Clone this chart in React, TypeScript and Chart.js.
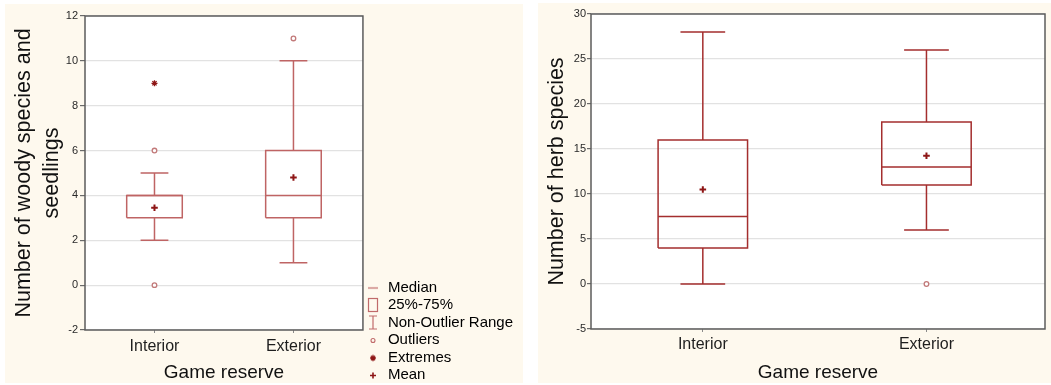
import React, { useEffect, useRef } from 'react';
import { Chart, registerables } from 'chart.js';
Chart.register(...registerables);

const FONT = '"Liberation Sans", Arial, sans-serif';
Chart.defaults.font.family = FONT;

// ---------- data ----------
const categories = ['Interior', 'Exterior'];

// Woody species and seedlings
const woodyMin = [2, 1];
const woodyQ1 = [3, 3];
const woodyMedian = [4, 4];
const woodyQ3 = [4, 6];
const woodyMax = [5, 10];
const woodyMean = [3.45, 4.8];
const woodyOutliers = [[6, 0], [11]];
const woodyExtremes = [[9], []];
const woodyTicks = { min: -2, max: 12, step: 2 };

// Herb species
const herbMin = [0, 6];
const herbQ1 = [4, 11];
const herbMedian = [7.5, 13];
const herbQ3 = [16, 18];
const herbMax = [28, 26];
const herbMean = [10.5, 14.25];
const herbOutliers = [[], [0]];
const herbExtremes = [[], []];
const herbTicks = { min: -5, max: 30, step: 5 };

const legendLabels = ['Median', '25%-75%', 'Non-Outlier Range', 'Outliers', 'Extremes', 'Mean'];

// ---------- helpers ----------
type Pt = { x: number; y: number | null };

function boxOutline(q1: number[], q3: number[], hw: number): Pt[] {
  const pts: Pt[] = [];
  q1.forEach((lo, i) => {
    const hi = q3[i];
    pts.push({ x: i - hw, y: lo }, { x: i + hw, y: lo }, { x: i + hw, y: hi }, { x: i - hw, y: hi }, { x: i - hw, y: lo }, { x: i, y: null });
  });
  return pts;
}
function medianLines(med: number[], hw: number): Pt[] {
  const pts: Pt[] = [];
  med.forEach((m, i) => pts.push({ x: i - hw, y: m }, { x: i + hw, y: m }, { x: i, y: null }));
  return pts;
}
function whiskerLines(mn: number[], q1: number[], q3: number[], mx: number[], hc: number): Pt[] {
  const pts: Pt[] = [];
  mn.forEach((lo, i) => {
    pts.push({ x: i, y: q3[i] }, { x: i, y: mx[i] }, { x: i, y: null });
    pts.push({ x: i - hc, y: mx[i] }, { x: i + hc, y: mx[i] }, { x: i, y: null });
    pts.push({ x: i, y: q1[i] }, { x: i, y: lo }, { x: i, y: null });
    pts.push({ x: i - hc, y: lo }, { x: i + hc, y: lo }, { x: i, y: null });
  });
  return pts;
}
function groupPoints(lists: number[][]): Pt[] {
  return lists.flatMap((vals, i) => vals.map((v) => ({ x: i, y: v })));
}

function sym(draw: (ctx: CanvasRenderingContext2D) => void): HTMLCanvasElement {
  const c = document.createElement('canvas');
  c.width = 14;
  c.height = 16;
  const ctx = c.getContext('2d')!;
  draw(ctx);
  return c;
}

const framePlugin = {
  id: 'frame',
  beforeDraw(chart: any) {
    const { ctx, chartArea: a } = chart;
    if (!a) return;
    ctx.save();
    ctx.fillStyle = '#ffffff';
    ctx.fillRect(a.left, a.top, a.right - a.left, a.bottom - a.top);
    ctx.restore();
  },
  afterDatasetsDraw(chart: any) {
    const { ctx, chartArea: a } = chart;
    if (!a) return;
    ctx.save();
    ctx.strokeStyle = '#5c5c5c';
    ctx.lineWidth = 1.5;
    ctx.strokeRect(a.left, a.top, a.right - a.left, a.bottom - a.top);
    ctx.restore();
  },
};

interface PanelSpec {
  mn: number[]; q1: number[]; med: number[]; q3: number[]; mx: number[]; mean: number[];
  outliers: number[][]; extremes: number[][];
  ticks: { min: number; max: number; step: number };
  xMin: number; xMax: number;
  lineColor: string;
  yTitle: string | string[];
  yWidth: number; xHeight: number;
  xTickPad: number; xTitlePad: number;
  yTickLen: number; yTickPad: number;
  padding: { top: number; right: number; bottom: number; left: number };
  legend: boolean;
}

function makeConfig(p: PanelSpec): any {
  const meanColor = '#8e1616';
  const ds: any[] = [
    { label: 'box', data: boxOutline(p.q1, p.q3, 0.2), borderColor: p.lineColor, borderWidth: 1.5, pointRadius: 0, fill: false, tension: 0 },
    { label: 'median', data: medianLines(p.med, 0.2), borderColor: p.lineColor, borderWidth: 1.5, pointRadius: 0, fill: false, tension: 0 },
    { label: 'whiskers', data: whiskerLines(p.mn, p.q1, p.q3, p.mx, 0.1), borderColor: p.lineColor, borderWidth: 1.5, pointRadius: 0, fill: false, tension: 0 },
    { label: 'outliers', data: groupPoints(p.outliers), showLine: false, pointStyle: 'circle', pointRadius: 2.3, borderColor: '#c27a7a', backgroundColor: '#ffffff', pointBorderWidth: 1.3 },
    { label: 'extremes', data: groupPoints(p.extremes), showLine: false, pointStyle: 'star', pointRadius: 3, borderColor: meanColor, backgroundColor: meanColor, pointBorderWidth: 1.3 },
    { label: 'mean', data: groupPoints(p.mean.map((m) => [m])), showLine: false, pointStyle: 'cross', pointRadius: 3.3, borderColor: meanColor, backgroundColor: meanColor, pointBorderWidth: 2 },
  ];

  const lc = '#c06a6a';
  const symbols = [
    sym((c) => { c.strokeStyle = lc; c.lineWidth = 1.2; c.beginPath(); c.moveTo(2, 8.5); c.lineTo(12, 8.5); c.stroke(); }),
    sym((c) => { c.strokeStyle = lc; c.lineWidth = 1.2; c.strokeRect(2.5, 1.5, 9, 13); }),
    sym((c) => { c.strokeStyle = lc; c.lineWidth = 1.2; c.beginPath(); c.moveTo(7, 1.5); c.lineTo(7, 14.5); c.moveTo(3, 1.5); c.lineTo(11, 1.5); c.moveTo(3, 14.5); c.lineTo(11, 14.5); c.stroke(); }),
    sym((c) => { c.strokeStyle = lc; c.lineWidth = 1.1; c.beginPath(); c.arc(7, 8.5, 2, 0, Math.PI * 2); c.stroke(); }),
    sym((c) => { c.strokeStyle = meanColor; c.lineWidth = 1.4; c.beginPath(); c.moveTo(7, 5.5); c.lineTo(7, 11.5); c.moveTo(4, 8.5); c.lineTo(10, 8.5); c.moveTo(5, 6.5); c.lineTo(9, 10.5); c.moveTo(9, 6.5); c.lineTo(5, 10.5); c.stroke(); }),
    sym((c) => { c.strokeStyle = meanColor; c.lineWidth = 1.6; c.beginPath(); c.moveTo(7, 5.5); c.lineTo(7, 11.5); c.moveTo(4, 8.5); c.lineTo(10, 8.5); c.stroke(); }),
  ];

  return {
    type: 'line',
    data: { datasets: ds },
    plugins: [framePlugin],
    options: {
      animation: false,
      responsive: true,
      maintainAspectRatio: false,
      layout: { padding: p.padding },
      plugins: {
        tooltip: { enabled: false },
        legend: {
          display: p.legend,
          position: 'right',
          align: 'end',
          maxWidth: 220,
          onClick: () => {},
          labels: {
            usePointStyle: true,
            padding: 2.5,
            color: '#1e1e1e',
            font: { size: 15, family: FONT },
            generateLabels: () =>
              legendLabels.map((t, i) => ({
                text: t,
                pointStyle: symbols[i],
                fillStyle: 'transparent',
                strokeStyle: 'transparent',
                lineWidth: 0,
                hidden: false,
                datasetIndex: i,
              })),
          },
        },
      },
      scales: {
        x: {
          type: 'linear',
          min: p.xMin,
          max: p.xMax,
          afterBuildTicks: (s: any) => { s.ticks = categories.map((_, i) => ({ value: i })); },
          afterFit: (s: any) => { s.height = p.xHeight; },
          border: { display: false },
          grid: { drawOnChartArea: false, drawTicks: true, tickLength: 3, tickColor: '#8a8a8a', lineWidth: 1 },
          ticks: {
            padding: p.xTickPad,
            color: '#1e1e1e',
            font: { size: 16, family: FONT },
            maxRotation: 0,
            callback: (v: any) => categories[Math.round(v)] ?? '',
          },
          title: { display: true, text: 'Game reserve', color: '#111', font: { size: 19, family: FONT }, padding: { top: 0, bottom: p.xTitlePad } },
        },
        y: {
          type: 'linear',
          min: p.ticks.min,
          max: p.ticks.max,
          afterFit: (s: any) => { s.width = p.yWidth; },
          border: { display: false },
          grid: { color: '#e2e2e2', lineWidth: 1.2, tickColor: '#6a6a6a', tickLength: p.yTickLen },
          ticks: { stepSize: p.ticks.step, padding: p.yTickPad, color: '#2a2a2a', font: { size: 11, family: FONT } },
          title: { display: true, text: p.yTitle, color: '#111', font: { size: 21.5, family: FONT, lineHeight: 1.3 }, padding: { top: 5, bottom: 0 } },
        },
      },
    },
  };
}

function Panel(props: { spec: PanelSpec; left: number; width: number }) {
  const ref = useRef<HTMLCanvasElement>(null);
  useEffect(() => {
    const chart = new Chart(ref.current!, makeConfig(props.spec));
    return () => chart.destroy();
  }, []);
  return (
    <div style={{ position: 'absolute', left: props.left, top: 0, width: props.width, height: 385 }}>
      <canvas ref={ref} />
    </div>
  );
}

const woodySpec: PanelSpec = {
  mn: woodyMin, q1: woodyQ1, med: woodyMedian, q3: woodyQ3, mx: woodyMax, mean: woodyMean,
  outliers: woodyOutliers, extremes: woodyExtremes, ticks: woodyTicks,
  xMin: -0.5, xMax: 1.5, lineColor: '#bf6464',
  yTitle: ['Number of woody species and', 'seedlings'],
  yWidth: 80, xHeight: 55, xTickPad: 4, xTitlePad: 0.6, yTickLen: 5, yTickPad: 2,
  padding: { top: 16, right: 0, bottom: 0, left: 0 },
  legend: true,
};

const herbSpec: PanelSpec = {
  mn: herbMin, q1: herbQ1, med: herbMedian, q3: herbQ3, mx: herbMax, mean: herbMean,
  outliers: herbOutliers, extremes: herbExtremes, ticks: herbTicks,
  xMin: -0.5, xMax: 1.53, lineColor: '#a42e2e',
  yTitle: 'Number of herb species',
  yWidth: 53, xHeight: 56, xTickPad: 3, xTitlePad: 1.3, yTickLen: 4, yTickPad: 1,
  padding: { top: 14, right: 2, bottom: 0, left: 0 },
  legend: false,
};

export default function App() {
  return (
    <div style={{ position: 'fixed', left: 0, top: 0, width: 1051, height: 385, background: '#ffffff', overflow: 'hidden' }}>
      <div style={{ position: 'absolute', left: 5, top: 4, width: 518, height: 379, background: '#fef9ee' }} />
      <div style={{ position: 'absolute', left: 538, top: 3, width: 513, height: 380, background: '#fef9ee' }} />
      <Panel spec={woodySpec} left={5} width={518} />
      <Panel spec={herbSpec} left={538} width={513} />
    </div>
  );
}
